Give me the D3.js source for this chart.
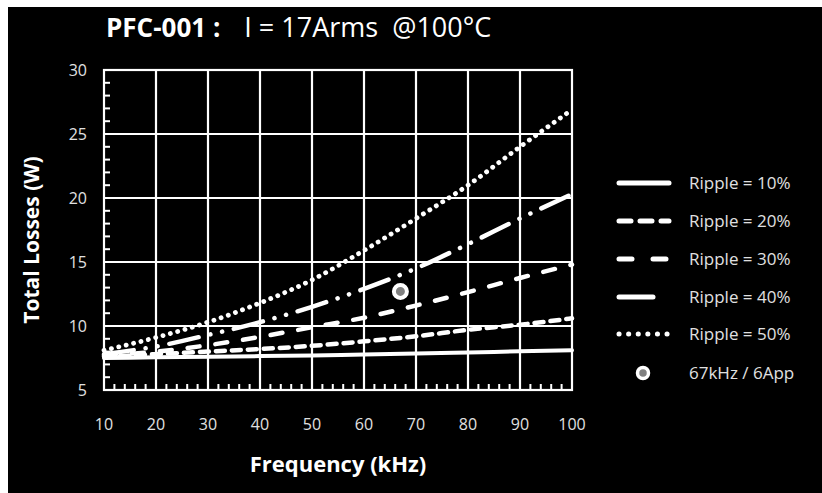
<!DOCTYPE html>
<html>
<head>
<meta charset="utf-8">
<script src="https://cdn.jsdelivr.net/npm/d3@7"></script>
<style>
  html, body { margin: 0; padding: 0; background: #fff; }
  svg { display: block; }
  text { font-family: "Open Sans", sans-serif; }
</style>
</head>
<body>
<div id="myDiv"></div>
<script>
// data
var freq = [10, 20, 30, 40, 50, 60, 70, 80, 90, 100];
var ripple10 = [7.5, 7.55, 7.6, 7.65, 7.7, 7.78, 7.85, 7.93, 8.02, 8.1];
var ripple20 = [7.6, 7.8, 8.0, 8.2, 8.45, 8.8, 9.2, 9.7, 10.1, 10.6];
var ripple30 = [7.7, 8.0, 8.5, 9.15, 9.9, 10.65, 11.6, 12.65, 13.75, 14.8];
var ripple40 = [7.8, 8.4, 9.3, 10.3, 11.5, 12.9, 14.5, 16.4, 18.4, 20.3];
var ripple50 = [8.1, 9.1, 10.3, 11.8, 13.6, 15.9, 18.4, 21.0, 24.0, 26.9];
var seriesNames = ["Ripple = 10%", "Ripple = 20%", "Ripple = 30%", "Ripple = 40%", "Ripple = 50%"];
var pointFreq = [67];
var pointLoss = [12.7];
var pointName = "67kHz / 6App";
var xTicks = [10, 20, 30, 40, 50, 60, 70, 80, 90, 100];
var yTicks = [5, 10, 15, 20, 25, 30];

var width = 822;
var height = 493;

var svg = d3.select("#myDiv")
    .append("svg")
    .attr("width", width)
    .attr("height", height);

// black picture with a thin white margin top/left
svg.append("rect")
    .attr("x", 8).attr("y", 7)
    .attr("width", width - 8).attr("height", height - 7)
    .attr("fill", "#000");

var x = d3.scaleLinear().domain([10, 100]).range([104, 572]);
var y = d3.scaleLinear().domain([5, 30]).range([390, 70]);

// minor ticks
var g = svg.append("g");
g.selectAll(".ymin")
    .data(d3.range(5, 30, 1).filter(function(v) { return v % 5 != 0; }))
    .enter().append("line")
    .attr("x1", x(10)).attr("x2", x(10) + 6)
    .attr("y1", d => y(d)).attr("y2", d => y(d))
    .attr("stroke", "#fff").attr("stroke-width", 2);
g.selectAll(".xmin")
    .data(d3.range(10, 100, 2).filter(function(v) { return v % 10 != 0; }))
    .enter().append("line")
    .attr("x1", d => x(d)).attr("x2", d => x(d))
    .attr("y1", y(5)).attr("y2", y(5) - 6)
    .attr("stroke", "#fff").attr("stroke-width", 2);

// grid
g.selectAll(".vgrid")
    .data(xTicks.slice(1, -1))
    .enter().append("line")
    .attr("x1", d => x(d)).attr("x2", d => x(d))
    .attr("y1", y(5)).attr("y2", y(30))
    .attr("stroke", "#fff").attr("stroke-width", 2.2);
g.selectAll(".hgrid")
    .data(yTicks.slice(1, -1))
    .enter().append("line")
    .attr("x1", x(10)).attr("x2", x(100))
    .attr("y1", d => y(d)).attr("y2", d => y(d))
    .attr("stroke", "#fff").attr("stroke-width", 2.2);

g.append("rect")
    .attr("x", x(10)).attr("y", y(30))
    .attr("width", x(100) - x(10)).attr("height", y(5) - y(30))
    .attr("fill", "none").attr("stroke", "#fff").attr("stroke-width", 2.2);

// tick labels
svg.selectAll(".xlab")
    .data(xTicks)
    .enter().append("text")
    .attr("x", d => x(d)).attr("y", 430)
    .attr("text-anchor", "middle")
    .attr("fill", "#e0e0e0")
    .attr("font-size", 16)
    .text(d => d);
svg.selectAll(".ylab")
    .data(yTicks)
    .enter().append("text")
    .attr("x", 87).attr("y", d => y(d) + 6)
    .attr("text-anchor", "end")
    .attr("fill", "#e0e0e0")
    .attr("font-size", 16)
    .text(d => d);

// axis titles
svg.append("text")
    .attr("x", 338).attr("y", 472)
    .attr("text-anchor", "middle")
    .attr("fill", "#fff").attr("font-weight", "bold")
    .attr("font-size", 22)
    .text("Frequency (kHz)");
svg.append("text")
    .attr("transform", "translate(39,240) rotate(-90)")
    .attr("text-anchor", "middle")
    .attr("fill", "#fff").attr("font-weight", "bold")
    .attr("font-size", 21)
    .text("Total Losses (W)");

// title
var title = svg.append("text")
    .attr("x", 106).attr("y", 37)
    .attr("fill", "#fff")
    .attr("font-size", 26);
title.append("tspan").attr("font-weight", "bold").text("PFC-001 :");
title.append("tspan").attr("dx", 24).attr("font-size", 27).text("I = 17Arms\u00a0\u00a0@100\u00b0C");

// curves
var styles = [
    { dash: null, w: 4 },
    { dash: "9,7", w: 4.5 },
    { dash: "12,16", w: 4.5 },
    { dash: "30,12,0.1,12,0.1,12", w: 4.5 },
    { dash: "0.1,7.5", w: 4.8 }
];
var allSeries = [ripple10, ripple20, ripple30, ripple40, ripple50];

var line = d3.line()
    .x(d => x(d[0]))
    .y(d => y(d[1]))
    .curve(d3.curveMonotoneX);

allSeries.forEach(function(vals, i) {
    var pts = freq.map(function(f, j) { return [f, vals[j]]; });
    svg.append("path")
        .datum(pts)
        .attr("d", line)
        .attr("fill", "none")
        .attr("stroke", "#fff")
        .attr("stroke-width", styles[i].w)
        .attr("stroke-linecap", "round")
        .attr("stroke-dasharray", styles[i].dash);
});

// operating point
svg.selectAll(".pt")
    .data(pointFreq)
    .enter().append("circle")
    .attr("cx", d => x(d))
    .attr("cy", (d, i) => y(pointLoss[i]))
    .attr("r", 6.5)
    .attr("fill", "#808080")
    .attr("stroke", "#fff")
    .attr("stroke-width", 4);

// legend
var legY = [183, 221, 259, 297, 334];
var legend = svg.append("g");
seriesNames.forEach(function(name, i) {
    legend.append("line")
        .attr("x1", 619).attr("x2", 669)
        .attr("y1", legY[i]).attr("y2", legY[i])
        .attr("stroke", "#fff")
        .attr("stroke-width", 5)
        .attr("stroke-linecap", "round")
        .attr("stroke-dasharray", [null, "12,9", "13,21", "34,40", "0.1,9.5"][i]);
    legend.append("text")
        .attr("x", 689).attr("y", legY[i] + 6)
        .attr("fill", "#e0e0e0")
        .attr("font-size", 17)
        .text(name);
});
legend.append("circle")
    .attr("cx", 643).attr("cy", 373)
    .attr("r", 5.5)
    .attr("fill", "#808080")
    .attr("stroke", "#fff")
    .attr("stroke-width", 3.5);
legend.append("text")
    .attr("x", 689).attr("y", 379)
    .attr("fill", "#e0e0e0")
    .attr("font-size", 17)
    .text(pointName);
</script>
</body>
</html>
